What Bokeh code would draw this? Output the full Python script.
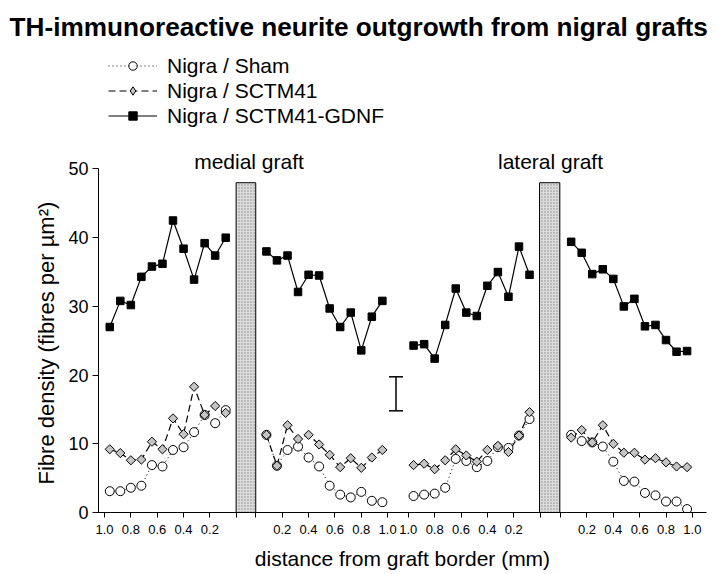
import math
from bokeh.plotting import figure
from bokeh.models import (Range1d, FixedTicker, Label, Legend, LegendItem,
                          Whisker, TeeHead, ColumnDataSource, Title)
from bokeh.embed import file_html
from bokeh.resources import INLINE

# ---------------- data ----------------
# distances from graft border (mm): towards graft (left of a graft) and away (right of a graft)
dist_toward = [0.96, 0.88, 0.80, 0.72, 0.64, 0.56, 0.48, 0.40, 0.32, 0.24, 0.16, 0.08]
dist_away = [0.08, 0.16, 0.24, 0.32, 0.40, 0.48, 0.56, 0.64, 0.72, 0.80, 0.88, 0.96]

sham_medial_in = [3.1, 3.1, 3.6, 3.9, 6.9, 6.7, 9.1, 9.5, 11.7, 14.2, 13.0, 14.9]
sham_medial_out = [11.3, 6.8, 9.1, 9.6, 8.0, 6.7, 3.9, 2.6, 2.2, 3.0, 1.7, 1.5]
sham_lateral_in = [2.4, 2.6, 2.75, 3.6, 7.8, 7.5, 6.6, 7.5, 9.5, 9.4, 11.2, 13.6]
sham_lateral_out = [11.3, 10.4, 10.2, 9.6, 7.4, 4.6, 4.5, 2.85, 2.5, 1.6, 1.6, 0.5]

sctm_medial_in = [9.2, 8.65, 7.6, 7.7, 10.3, 9.2, 13.7, 11.4, 18.3, 14.2, 15.5, 14.5]
sctm_medial_out = [11.3, 6.8, 12.7, 10.7, 11.3, 9.9, 8.4, 6.6, 7.9, 6.5, 8.0, 9.1]
sctm_lateral_in = [6.9, 7.1, 6.3, 7.6, 9.2, 8.3, 7.4, 9.1, 9.7, 8.8, 11.2, 14.6]
sctm_lateral_out = [10.9, 12.0, 10.2, 12.7, 10.0, 8.7, 8.7, 7.7, 7.9, 7.3, 6.7, 6.6]

gdnf_medial_in = [27.0, 30.8, 30.2, 34.3, 35.8, 36.2, 42.5, 38.4, 33.9, 39.2, 37.4, 40.0]
gdnf_medial_out = [38.0, 36.7, 37.4, 32.1, 34.6, 34.5, 29.7, 27.0, 29.1, 23.6, 28.5, 30.8]
gdnf_lateral_in = [24.3, 24.5, 22.4, 27.3, 32.6, 29.1, 28.6, 33.0, 35.0, 31.4, 38.7, 34.6]
gdnf_lateral_out = [39.4, 37.8, 34.7, 35.4, 34.0, 30.0, 31.1, 27.1, 27.3, 25.1, 23.4, 23.5]

tick_distances = [0.0, 0.2, 0.4, 0.6, 0.8, 1.0]
y_ticks = [0, 10, 20, 30, 40, 50]
errbar_low = [14.8]
errbar_high = [19.75]

series_names = ["Nigra / Sham", "Nigra / SCTM41", "Nigra / SCTM41-GDNF"]
title_text = "TH-immunoreactive neurite outgrowth from nigral grafts"
x_title = "distance from graft border (mm)"
y_title = "Fibre density (fibres per µm²)"

# ---------------- layout ----------------
FONT = "Liberation Sans"
W, H = 720, 574
FRAME_L, FRAME_R, FRAME_T, FRAME_B = 98, 706, 48, 512
PX_PER_MM = 131.75
PX_PER_UNIT = 6.9
X0 = (FRAME_L - 104) / PX_PER_MM
X1 = X0 + (FRAME_R - FRAME_L) / PX_PER_MM
Y1 = (FRAME_B - FRAME_T) / PX_PER_UNIT


def fx(page_x):
    return X0 + (page_x - FRAME_L) / PX_PER_MM


def fy(page_y):
    return (FRAME_B - page_y) / PX_PER_UNIT


# segment offsets along the x axis: (offset, direction toward graft?)
SEGMENTS = [(0.0, True), (1.149, False), (2.306, True), (3.462, False)]
GRAFT_BARS = [(0.999, 1.148), (3.302, 3.456)]
GRAFT_TOP = 48.0


def pos(offset, toward, d):
    return offset + (1 - d) if toward else offset + d


def build(arrs):
    xs, ys = [], []
    for (off, toward), vals in zip(SEGMENTS, arrs):
        dists = dist_toward if toward else dist_away
        xs += [pos(off, toward, d) for d in dists] + [math.nan]
        ys += list(vals) + [math.nan]
    return ColumnDataSource(dict(x=xs, y=ys))


sham_src = build([sham_medial_in, sham_medial_out, sham_lateral_in, sham_lateral_out])
sctm_src = build([sctm_medial_in, sctm_medial_out, sctm_lateral_in, sctm_lateral_out])
gdnf_src = build([gdnf_medial_in, gdnf_medial_out, gdnf_lateral_in, gdnf_lateral_out])

p = figure(width=W, height=H, x_range=Range1d(X0, X1), y_range=Range1d(0, Y1),
           min_border_left=FRAME_L, min_border_right=W - FRAME_R,
           min_border_top=FRAME_T, min_border_bottom=H - FRAME_B,
           title=title_text, output_backend="svg", toolbar_location=None)
p.outline_line_color = None
p.xgrid.visible = False
p.ygrid.visible = False
p.background_fill_color = "white"
p.border_fill_color = "white"

p.title.align = "left"
p.title.vertical_align = "bottom"
p.title.offset = 9 - FRAME_L
p.title.standoff = 18
p.title.text_font = FONT
p.title.text_font_size = "26.2px"
p.title.text_font_style = "bold"
p.title.text_color = "black"

# graft bars
p.quad(left=[b[0] for b in GRAFT_BARS], right=[b[1] for b in GRAFT_BARS],
       bottom=0, top=GRAFT_TOP, fill_color="#dcdcdc", line_color="black", line_width=1,
       hatch_pattern="dot", hatch_color="#8a8a8a", hatch_scale=3, hatch_weight=1)

sham_line = p.line("x", "y", source=sham_src, line_color="black", line_width=1, line_dash="1 3")
sctm_line = p.line("x", "y", source=sctm_src, line_color="black", line_width=1.2, line_dash="7 4")
gdnf_line = p.line("x", "y", source=gdnf_src, line_color="black", line_width=1.2)

sham_pts = p.scatter("x", "y", source=sham_src, marker="circle", size=9,
                     fill_color="white", line_color="black", line_width=1)
sctm_pts = p.scatter("x", "y", source=sctm_src, marker="square", angle=math.pi / 4, size=6.5,
                     fill_color="#c4c4c4", line_color="black", line_width=1)
gdnf_pts = p.scatter("x", "y", source=gdnf_src, marker="square", size=7.5,
                     fill_color="black", line_color="black")
# legend-only glyph for the diamond key (legend markers are drawn unrotated); no visible point
sctm_key = p.scatter(x=[math.nan], y=[math.nan], marker="diamond", fill_color="#c4c4c4",
                     line_color="black", line_width=1)

# error bar
err_src = ColumnDataSource(dict(base=[fx(395.5)], lower=errbar_low, upper=errbar_high))
p.add_layout(Whisker(source=err_src, base="base", lower="lower", upper="upper",
                     dimension="height", line_width=1.5, line_color="black",
                     upper_head=TeeHead(size=14, line_width=1.5, line_color="black"),
                     lower_head=TeeHead(size=14, line_width=1.5, line_color="black")))

# x axis
tick_pos, overrides = [], {}
for off, toward in SEGMENTS:
    for d in tick_distances:
        t = pos(off, toward, d)
        tick_pos.append(t)
        overrides[t] = "" if d == 0 else f"{d:.1f}"
p.xaxis.ticker = FixedTicker(ticks=tick_pos)
p.xaxis.major_label_overrides = overrides
p.xaxis.minor_tick_line_color = None
p.xaxis.major_tick_in = 0
p.xaxis.major_tick_out = 5
p.xaxis.major_label_standoff = 7
p.xaxis.major_label_text_font = FONT
p.xaxis.major_label_text_font_size = "13px"
p.xaxis.major_label_text_color = "black"
p.xaxis.axis_label = x_title
p.xaxis.axis_label_text_font = FONT
p.xaxis.axis_label_text_font_size = "21px"
p.xaxis.axis_label_text_font_style = "normal"
p.xaxis.axis_label_text_color = "black"
p.xaxis.axis_label_standoff = 10
p.xaxis.axis_line_color = "black"

# y axis
p.yaxis.ticker = FixedTicker(ticks=y_ticks)
p.yaxis.bounds = (y_ticks[0], y_ticks[-1])
p.yaxis.minor_tick_line_color = None
p.yaxis.major_tick_in = 0
p.yaxis.major_tick_out = 6
p.yaxis.major_label_standoff = 4
p.yaxis.major_label_text_font = FONT
p.yaxis.major_label_text_font_size = "18px"
p.yaxis.major_label_text_color = "black"
p.yaxis.axis_line_color = "black"
# y axis title centred on the axis span (0..50), not on the taller frame
p.add_layout(Title(text=y_title, align="left", offset=28, standoff=14,
                   text_font=FONT, text_font_size="22px", text_font_style="normal",
                   text_color="black"), "left")

# graft labels
p.add_layout(Label(x=fx(248.5), y=fy(159), text="medial graft", text_font=FONT,
                   text_font_size="21px", text_color="black",
                   text_align="center", text_baseline="alphabetic"))
p.add_layout(Label(x=fx(550), y=fy(159), text="lateral graft", text_font=FONT,
                   text_font_size="21px", text_color="black",
                   text_align="center", text_baseline="alphabetic"))

legend = Legend(items=[LegendItem(label=series_names[0], renderers=[sham_line, sham_pts]),
                       LegendItem(label=series_names[1], renderers=[sctm_line, sctm_key]),
                       LegendItem(label=series_names[2], renderers=[gdnf_line, gdnf_pts])],
                location=(108 - FRAME_L, FRAME_B - 128), orientation="vertical",
                glyph_width=49, glyph_height=21, label_height=25, spacing=0,
                padding=0, margin=0, label_standoff=10,
                label_text_font=FONT, label_text_font_size="21px", label_text_color="black",
                border_line_alpha=0, background_fill_alpha=0)
p.add_layout(legend)

open("out.html", "w").write(file_html(p, INLINE))
